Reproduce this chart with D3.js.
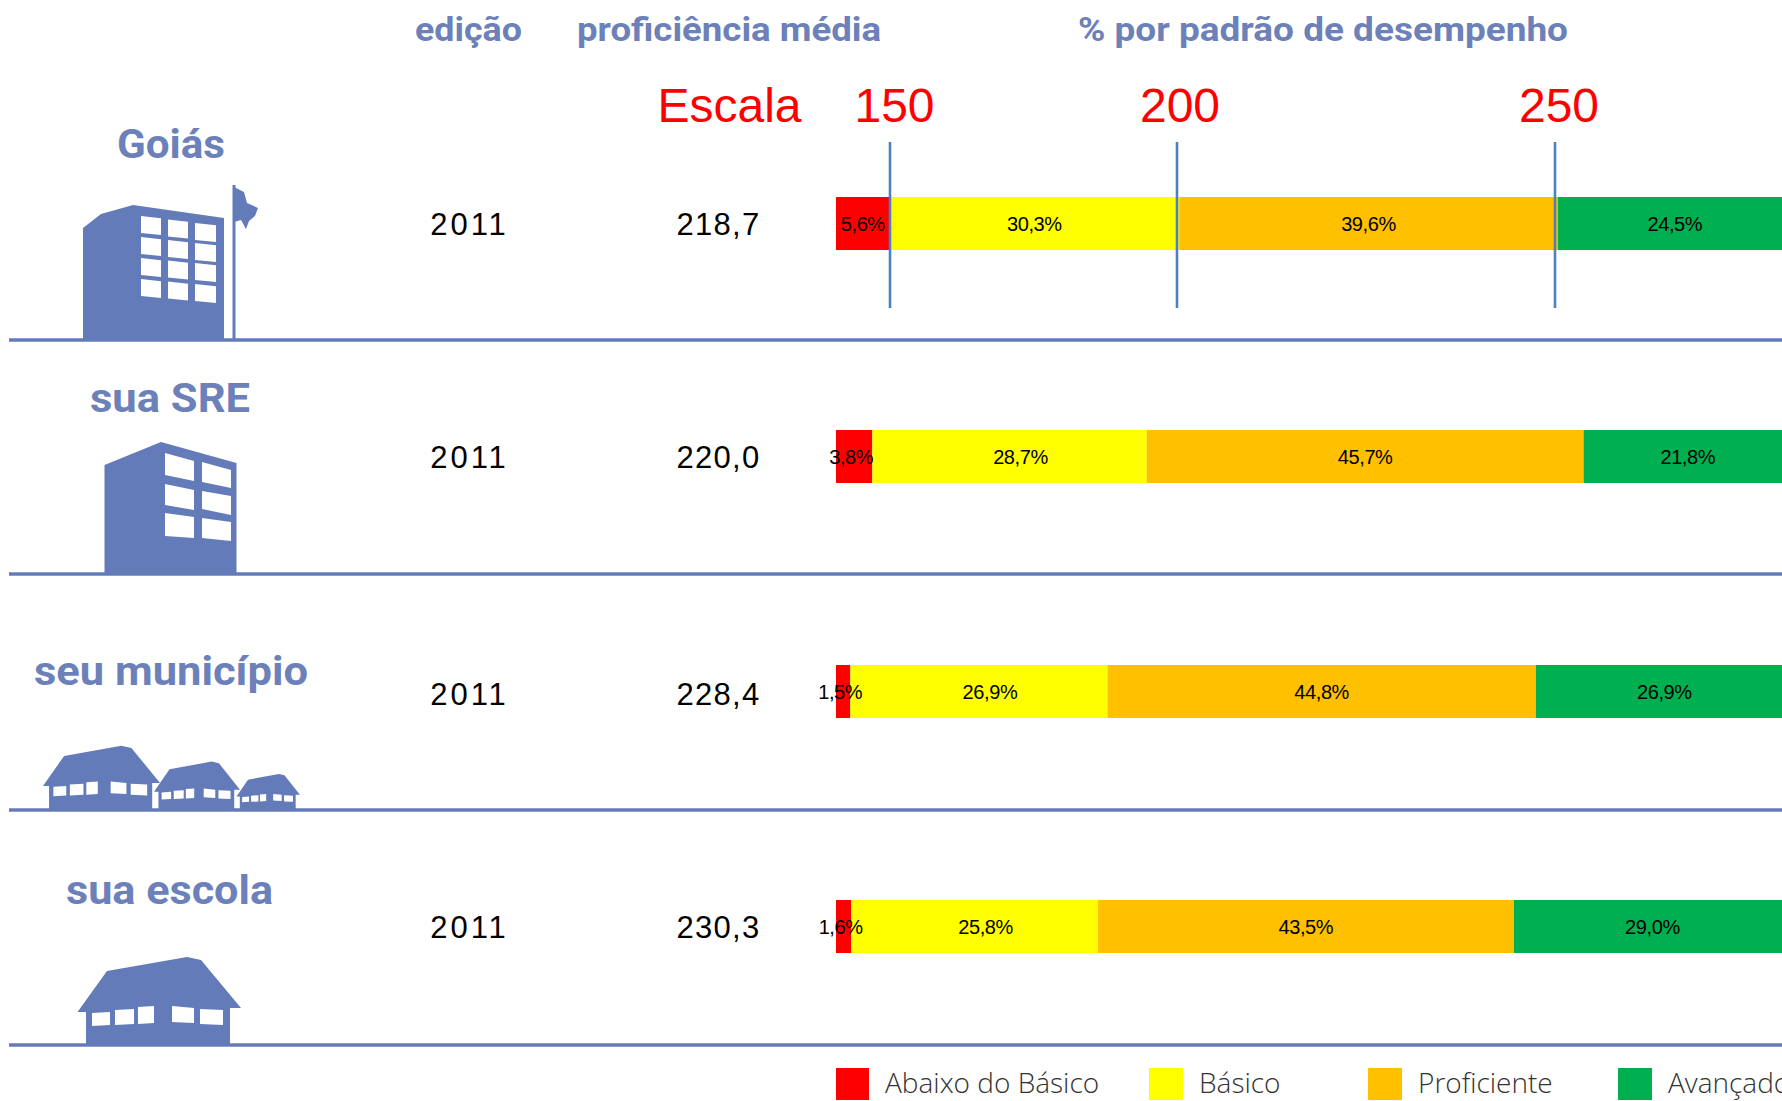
<!DOCTYPE html>
<html lang="pt">
<head>
<meta charset="utf-8">
<title>Proficiência média e padrão de desempenho</title>
<script src="https://cdn.jsdelivr.net/npm/d3@7/dist/d3.min.js"></script>
<style>
html,body{margin:0;padding:0;background:#fff;overflow:hidden}
svg{display:block}
</style>
</head>
<body>
<svg id="c" width="1782" height="1101"></svg>
<script>
// ---- data ----
const places = ["Goiás", "sua SRE", "seu município", "sua escola"];
const editions = ["2011", "2011", "2011", "2011"];
const proficiency = ["218,7", "220,0", "228,4", "230,3"];
const levels = ["Abaixo do Básico", "Básico", "Proficiente", "Avançado"];
const abaixo = [5.6, 3.8, 1.5, 1.6];
const basico = [30.3, 28.7, 26.9, 25.8];
const proficiente = [39.6, 45.7, 44.8, 43.5];
const avancado = [24.5, 21.8, 26.9, 29.0];
const scaleTicks = [150, 200, 250];
const headers = ["edição", "proficiência média", "% por padrão de desempenho"];
const scaleTitle = "Escala";

// ---- layout & style ----
const W = 1782, H = 1101;
const BLUE = "#647bba", HEAD = "#6c80b9", LINE = "#4f7fbd";
const colors = d3.scaleOrdinal(levels, ["#ff0000", "#ffff00", "#ffc000", "#00b050"]);
const x = d3.scaleLinear([0, 100], [836, 1792]);
const rowY = d3.scaleLinear([0, 1, 2, 3], [197, 430, 665, 900]);
const dividerY = d3.scaleLinear([0, 1, 2, 3], [340, 574, 810, 1045]);
const barH = 53;
const scaleX = d3.scaleOrdinal(scaleTicks, [890, 1177, 1555]);
const scaleLabelX = d3.scaleOrdinal(scaleTicks, [894.5, 1180, 1559]);
const nameBase = [158, 412, 685, 904];
const valueBase = [235, 468, 705, 938];
const fmt = v => v.toFixed(1).replace(".", ",") + "%";

const svg = d3.select("#c");
svg.append("rect").attr("width", W).attr("height", H).attr("fill", "#fff");

// column headers
const headSpec = [{x: 415, w: 107}, {x: 577, w: 304}, {x: 1078, w: 490}];
svg.append("g").selectAll("text").data(headers).join("text")
  .attr("x", (d, i) => headSpec[i].x).attr("y", 41)
  .attr("textLength", (d, i) => headSpec[i].w).attr("lengthAdjust", "spacingAndGlyphs")
  .attr("font-family", "Roboto").attr("font-weight", 700).attr("font-size", 33)
  .attr("fill", HEAD).text(d => d);

// place names
const nameSpec = [{x: 117, w: 108}, {x: 90, w: 160}, {x: 34, w: 274}, {x: 66, w: 207}];
svg.append("g").selectAll("text").data(places).join("text")
  .attr("x", (d, i) => nameSpec[i].x).attr("y", (d, i) => nameBase[i])
  .attr("textLength", (d, i) => nameSpec[i].w).attr("lengthAdjust", "spacingAndGlyphs")
  .attr("font-family", "Roboto").attr("font-weight", 700).attr("font-size", 41)
  .attr("fill", HEAD).text(d => d);

// dividers
svg.append("g").selectAll("line").data(places).join("line")
  .attr("x1", 9).attr("x2", W)
  .attr("y1", (d, i) => dividerY(i)).attr("y2", (d, i) => dividerY(i))
  .attr("stroke", BLUE).attr("stroke-width", 3.4);

// icons
const icons = svg.append("g");
function poly(pts, fill) {
  return icons.append("path").attr("d", d3.line()(pts) + "Z").attr("fill", fill);
}
// Goiás: tower and flag
poly([[83,228],[101,214],[133,205],[224,218],[224,339],[83,339]], BLUE);
const towerCols = [[141,161],[168,188],[195,216]];
const towerTops = [[216,237,258,279],[219.5,240,260.5,281.5],[223,243,263,284]];
towerCols.forEach(([a,b], c) => {
  towerTops[c].forEach(t => {
    poly([[a,t],[b,t + 2.2],[b,t + 19],[a,t + 17]], "#fff");
  });
});
poly([[232.5,185],[235.5,185],[235.5,339],[232.5,339]], BLUE);
poly([[234,187],[244,192],[247,203],[258,208],[255,216],[249,221],[246,229],[241,220],[234,222]], BLUE);

// SRE: tower
poly([[104.5,465],[161,442],[236.5,463],[236.5,574],[104.5,574]], BLUE);
[
 [[165,453],[194,461],[194,481],[165,475]], [[202,462],[231,470],[231,488],[202,482]],
 [[165,484],[194,490],[194,510],[165,505]], [[202,491],[231,496],[231,515],[202,509]],
 [[165,513],[194,517],[194,538],[165,536]], [[202,518],[231,522],[231,541],[202,538]]
].forEach(w => poly(w, "#fff"));

// houses share one outline, scaled around their base
function house(tx, baseY, sx, sy) {
  const m = p => [tx + (p[0] - 77.5) * sx, baseY + (p[1] - 1045) * sy];
  poly([[77.5,1012],[107,971],[187,957],[201,960],[241,1008],[230,1008],[230,1045],[86,1045],[86,1012]].map(m), BLUE);
  [
   [[92,1013],[110,1012],[110,1025],[92,1026]],
   [[115,1010],[134,1009],[134,1024],[115,1025]],
   [[138,1007],[154,1006],[154,1023],[138,1024]],
   [[172,1006],[194,1008],[194,1023],[172,1022]],
   [[200,1009],[223,1010],[223,1025],[200,1024]]
  ].forEach(w => poly(w.map(m), "#fff"));
}
house(43, 810, 0.716, 0.73);
house(154, 810, 0.526, 0.55);
house(236.5, 810, 0.388, 0.41);
house(77.5, 1045, 1, 1);

// values
const numStyle = s => s.attr("font-family", "Liberation Sans").attr("font-size", 31)
  .attr("text-anchor", "middle").attr("fill", "#000");
numStyle(svg.append("g").selectAll("text").data(editions).join("text"))
  .attr("letter-spacing", 2.9).attr("x", 469.5).attr("y", (d, i) => valueBase[i]).text(d => d);
numStyle(svg.append("g").selectAll("text").data(proficiency).join("text"))
  .attr("letter-spacing", 1.3).attr("x", 718.5).attr("y", (d, i) => valueBase[i]).text(d => d);

// stacked bars
const table = places.map((p, i) => ({
  [levels[0]]: abaixo[i], [levels[1]]: basico[i], [levels[2]]: proficiente[i], [levels[3]]: avancado[i], row: i
}));
const stack = d3.stack().keys(levels)(table);
const seriesG = svg.append("g").selectAll("g").data(stack).join("g").attr("fill", d => colors(d.key));
seriesG.selectAll("rect").data(d => d).join("rect")
  .attr("x", d => x(d[0])).attr("width", d => x(d[1]) - x(d[0]))
  .attr("y", d => rowY(d.data.row)).attr("height", barH);
const labelG = svg.append("g");
stack.forEach(s => s.forEach(d => {
  const narrow = s.key === levels[0] && d[1] - d[0] < 5;
  const basicShift = s.key === levels[1] && d.data.row > 0 ? 11 : 0;
  labelG.append("text")
    .attr("x", (x(d[0]) + x(d[1])) / 2 - (narrow ? 3 : 0) + basicShift)
    .attr("y", rowY(d.data.row) + 34)
    .attr("text-anchor", "middle").attr("font-family", "Liberation Sans").attr("font-size", 20)
    .attr("letter-spacing", -0.4).attr("fill", "#000")
    .text(fmt(d[1] - d[0]));
}));

// red scale annotations
svg.append("g").selectAll("line").data(scaleTicks).join("line")
  .attr("x1", d => scaleX(d)).attr("x2", d => scaleX(d)).attr("y1", 142).attr("y2", 308)
  .attr("stroke", LINE).attr("stroke-width", 2.6);
const red = s => s.attr("font-family", "Liberation Sans").attr("font-size", 48)
  .attr("fill", "#ff0000").attr("text-anchor", "middle");
red(svg.append("g").selectAll("text").data(scaleTicks).join("text"))
  .attr("x", d => scaleLabelX(d)).attr("y", 122).text(d => d);
red(svg.append("text")).attr("x", 729.5).attr("y", 122).text(scaleTitle);

// legend
const legX = d3.scaleOrdinal(levels, [836, 1149, 1368, 1618]);
const legW = d3.scaleOrdinal(levels, [33, 34, 34, 34]);
const legTx = d3.scaleOrdinal(levels, [885, 1199, 1418, 1668]);
const leg = svg.append("g").selectAll("g").data(levels).join("g");
leg.append("rect").attr("x", d => legX(d)).attr("y", 1068).attr("width", d => legW(d)).attr("height", 32)
  .attr("fill", d => colors(d));
leg.append("text").attr("x", d => legTx(d)).attr("y", 1092.5)
  .attr("font-family", "Open Sans").attr("font-weight", 300).attr("font-size", 28)
  .attr("fill", "#333").text(d => d);
</script>
</body>
</html>
